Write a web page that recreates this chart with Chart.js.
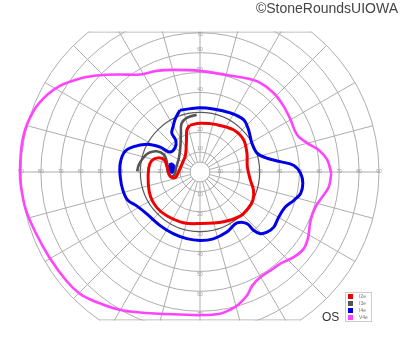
<!DOCTYPE html>
<html>
<head>
<meta charset="utf-8">
<script src="https://cdn.jsdelivr.net/npm/chart.js@4"></script>
<style>
body{margin:0;background:#fff;width:400px;height:352px;overflow:hidden;position:relative;font-family:Arial,"Liberation Sans",sans-serif}
#chart{position:absolute;left:0;top:0}
#mark{position:absolute;right:2px;top:1.4px;font-size:14px;line-height:14px;color:#444;white-space:nowrap}
#eye{position:absolute;left:322px;top:310.5px;font-size:12px;line-height:12px;color:#333}
#legend{position:absolute;left:345px;top:292px;width:25px;height:28px;border:1px solid #ccc;background:#fff}
.row{height:7px;position:relative}
.sw{position:absolute;left:2px;top:1px;width:5px;height:5px}
.lb{position:absolute;left:13px;top:0;font-size:5px;line-height:7px;color:#777}
</style>
</head>
<body>
<canvas id="chart" width="400" height="352"></canvas>
<div id="mark">©StoneRoundsUIOWA</div>
<div id="eye">OS</div>
<div id="legend"></div>
<script>
// isopter names + colours (legend order)
const isopters = ['I2e', 'I3e', 'I4e', 'V4e'];
const colours = ['#f00000', '#555555', '#0000e6', '#ff44ff'];

// points in degrees of visual field, x = horizontal, y = vertical
const i2eX = [-5.1, 0, 8.4, 16.8, 21.9, 23.6, 23.8, 25.3, 26.9, 26.6, 24.3, 20.2, 11.8, 0, -8.4, -16.7, -21.7, -24.8, -26.0, -25.8, -24.3, -21.2, -17.9, -16.4, -14.9, -12.4, -10.6, -8.8, -7.3, -6.8, -6.6, -5.1];
const i2eY = [23.5, 24.5, 23.8, 21.2, 16.2, 9.5, 2.7, -4.0, -9.1, -14.2, -18.2, -22.2, -25.0, -25.9, -25.5, -22.0, -17.9, -12.6, -6.1, 2.0, 5.6, 7.1, 6.1, 2.0, -2.3, -2.8, 0.5, 4.6, 8.6, 16.2, 21.2, 23.5];

// I3e is an open arc
const i3eX = [-1.7, -6.7, -9.3, -9.6, -9.9, -10.6, -11.9, -12.9, -14.7, -16.2, -16.7, -18.2, -21.7, -25.8, -28.8, -30.8, -31.6];
const i3eY = [28.8, 27.2, 24.3, 18.7, 12.1, 7.1, 2.5, -1.3, -2.3, 0, 5.1, 8.8, 10.4, 9.6, 6.8, 3.5, 0.3];

const i4eX = [-10.1, -1.7, 6.7, 15.2, 21.9, 24.4, 26.1, 28.7, 33.7, 40.4, 47.2, 50.6, 51.7, 50.6, 47.2, 43.0, 39.6, 37.1, 33.7, 30.3, 26.9, 23.6, 18.6, 13.5, 6.7, 0, -6.7, -13.5, -20.2, -26.9, -32.0, -36.3, -38.8, -40.1, -40.1, -37.9, -33.7, -26.9, -20.2, -15.2, -12.6, -12.1, -14.2, -13.5, -12.4, -10.1];
const i4eY = [31.0, 32.2, 31.7, 29.7, 26.3, 21.2, 14.5, 9.5, 6.9, 5.2, 3.3, -0.7, -5.7, -10.8, -14.2, -17.5, -22.6, -27.7, -30.2, -31.0, -29.3, -25.9, -25.6, -30.2, -33.6, -34.4, -33.5, -31.0, -26.8, -20.9, -16.9, -14.2, -9.1, -2.4, 4.4, 10.1, 12.6, 13.9, 12.6, 10.1, 12.1, 15.7, 19.6, 22.9, 26.8, 31.0];

// small I4e island near fixation
const i4eSpotX = [-14.5, -13.2, -12.6, -13.0, -14.2, -15.5, -16.0, -15.6, -14.5];
const i4eSpotY = [4.6, 4.0, 2.0, 0.0, -0.7, 0.0, 2.0, 3.8, 4.6];

const v4eX = [66.0, 64.0, 59.7, 53.9, 48.8, 45.5, 42.1, 37.0, 30.3, 23.6, 13.5, 0, -13.5, -21.9, -30.3, -40.4, -50.5, -58.9, -70.7, -80.8, -86.7, -89.5, -90.5, -90.0, -87.5, -82.5, -75.8, -67.3, -60.6, -55.6, -50.5, -40.4, -30.3, -20.2, -10.1, 0, 10.1, 15.2, 19.2, 23.6, 26.3, 30.3, 35.4, 40.4, 47.1, 52.2, 54.4, 55.6, 58.1, 61.5, 64.8, 66.0];
const v4eY = [-0.7, 6.1, 11.1, 14.5, 18.7, 26.3, 33.0, 39.7, 44.8, 47.0, 48.7, 50.8, 51.3, 50.8, 49.0, 49.0, 48.6, 47.3, 43.1, 34.7, 24.6, 14.5, 1.0, -7.4, -19.2, -30.8, -42.8, -54.5, -61.1, -63.8, -66.0, -69.2, -70.6, -71.2, -71.6, -71.9, -71.2, -69.2, -66.7, -62.1, -57.1, -52.9, -49.5, -46.1, -42.8, -38.5, -32.7, -24.2, -17.5, -12.5, -7.4, -0.7];

// grid
const rings = [10, 20, 30, 40, 50, 60, 70, 80, 90];
const meridians = [0, 15, 30, 45, 60, 75, 90, 105, 120, 135, 150, 165, 180, 195, 210, 225, 240, 255, 270, 285, 300, 315, 330, 345];
const hTicks = [10, 20, 30, 40, 50, 60, 70, 80, 90];
const vTicks = [10, 20, 30, 40, 50, 60, 70];

function pts(xs, ys) {
    return xs.map((v, i) => ({x: v, y: ys[i]}));
}

const gridPlugin = {
    id: 'goldmannGrid',
    beforeDatasetsDraw(chart) {
        const {ctx, chartArea, scales} = chart;
        const sx = scales.x, sy = scales.y;
        const cx = sx.getPixelForValue(0), cy = sy.getPixelForValue(0);
        const rp = d => sx.getPixelForValue(d) - cx; // degrees -> px radius
        ctx.save();
        ctx.beginPath();
        ctx.rect(0, chartArea.top - 0.5, chart.width, chartArea.bottom - chartArea.top + 1);
        ctx.clip();
        ctx.lineWidth = 1;
        ctx.strokeStyle = '#adadad';
        [5].concat(rings).forEach(r => {
            if (r === 30) return;
            ctx.beginPath();
            ctx.arc(cx, cy, rp(r), 0, Math.PI * 2);
            ctx.stroke();
        });
        meridians.forEach(a => {
            const t = a * Math.PI / 180;
            ctx.beginPath();
            ctx.moveTo(cx + rp(5) * Math.cos(t), cy - rp(5) * Math.sin(t));
            ctx.lineTo(cx + rp(90) * Math.cos(t), cy - rp(90) * Math.sin(t));
            ctx.stroke();
        });
        // top / bottom cut of the chart
        const R = rp(90);
        [chartArea.top, chartArea.bottom].forEach(yy => {
            const h = Math.sqrt(R * R - (cy - yy) * (cy - yy));
            ctx.beginPath();
            ctx.moveTo(cx - h, yy);
            ctx.lineTo(cx + h, yy);
            ctx.stroke();
        });
        // 30 deg ring darker
        ctx.strokeStyle = '#5a5a5a';
        ctx.lineWidth = 1.2;
        ctx.beginPath();
        ctx.arc(cx, cy, rp(30), 0, Math.PI * 2);
        ctx.stroke();
        // tick labels
        ctx.fillStyle = '#9a9a9a';
        ctx.font = '5px Arial';
        ctx.textAlign = 'center';
        ctx.textBaseline = 'middle';
        hTicks.forEach(t => {
            ctx.fillText(String(t), cx - rp(t), cy);
            ctx.fillText(String(t), cx + rp(t), cy);
        });
        vTicks.forEach(t => {
            ctx.fillText(String(t), cx, Math.max(cy - rp(t) - 3, chartArea.top + 3));
            ctx.fillText(String(t), cx, Math.min(cy + rp(t) + 3, chartArea.bottom - 3));
        });
        ctx.restore();
    }
};

function line(label, data, colour, width) {
    return {
        label: label,
        data: data,
        showLine: true,
        borderColor: colour,
        backgroundColor: colour,
        borderWidth: width,
        pointRadius: 0,
        tension: 0.35,
        fill: false,
        clip: false
    };
}

const spot = line('I4e', pts(i4eSpotX, i4eSpotY), colours[2], 1);
spot.fill = 'shape';

let chart = new Chart(document.getElementById('chart').getContext('2d'), {
    type: 'scatter',
    data: {
        datasets: [
            line(isopters[0], pts(i2eX, i2eY), colours[0], 3),
            line(isopters[1], pts(i3eX, i3eY), colours[1], 2.6),
            line(isopters[2], pts(i4eX, i4eY), colours[2], 3),
            spot,
            line(isopters[3], pts(v4eX, v4eY), colours[3], 2.6)
        ]
    },
    options: {
        responsive: false,
        animation: false,
        devicePixelRatio: 1,
        layout: {padding: {left: 21, right: 21, top: 32, bottom: 32}},
        scales: {
            x: {type: 'linear', min: -90, max: 90, display: false},
            y: {type: 'linear', min: -74.37, max: 70.35, display: false}
        },
        plugins: {legend: {display: false}, tooltip: {enabled: false}}
    },
    plugins: [gridPlugin]
});

// legend box
let legend = document.getElementById('legend');
isopters.forEach((name, i) => {
    let row = document.createElement('div');
    row.className = 'row';
    row.innerHTML = '<span class="sw" style="background:' + colours[i] + '"></span><span class="lb">' + name + '</span>';
    legend.appendChild(row);
});
</script>
</body>
</html>
